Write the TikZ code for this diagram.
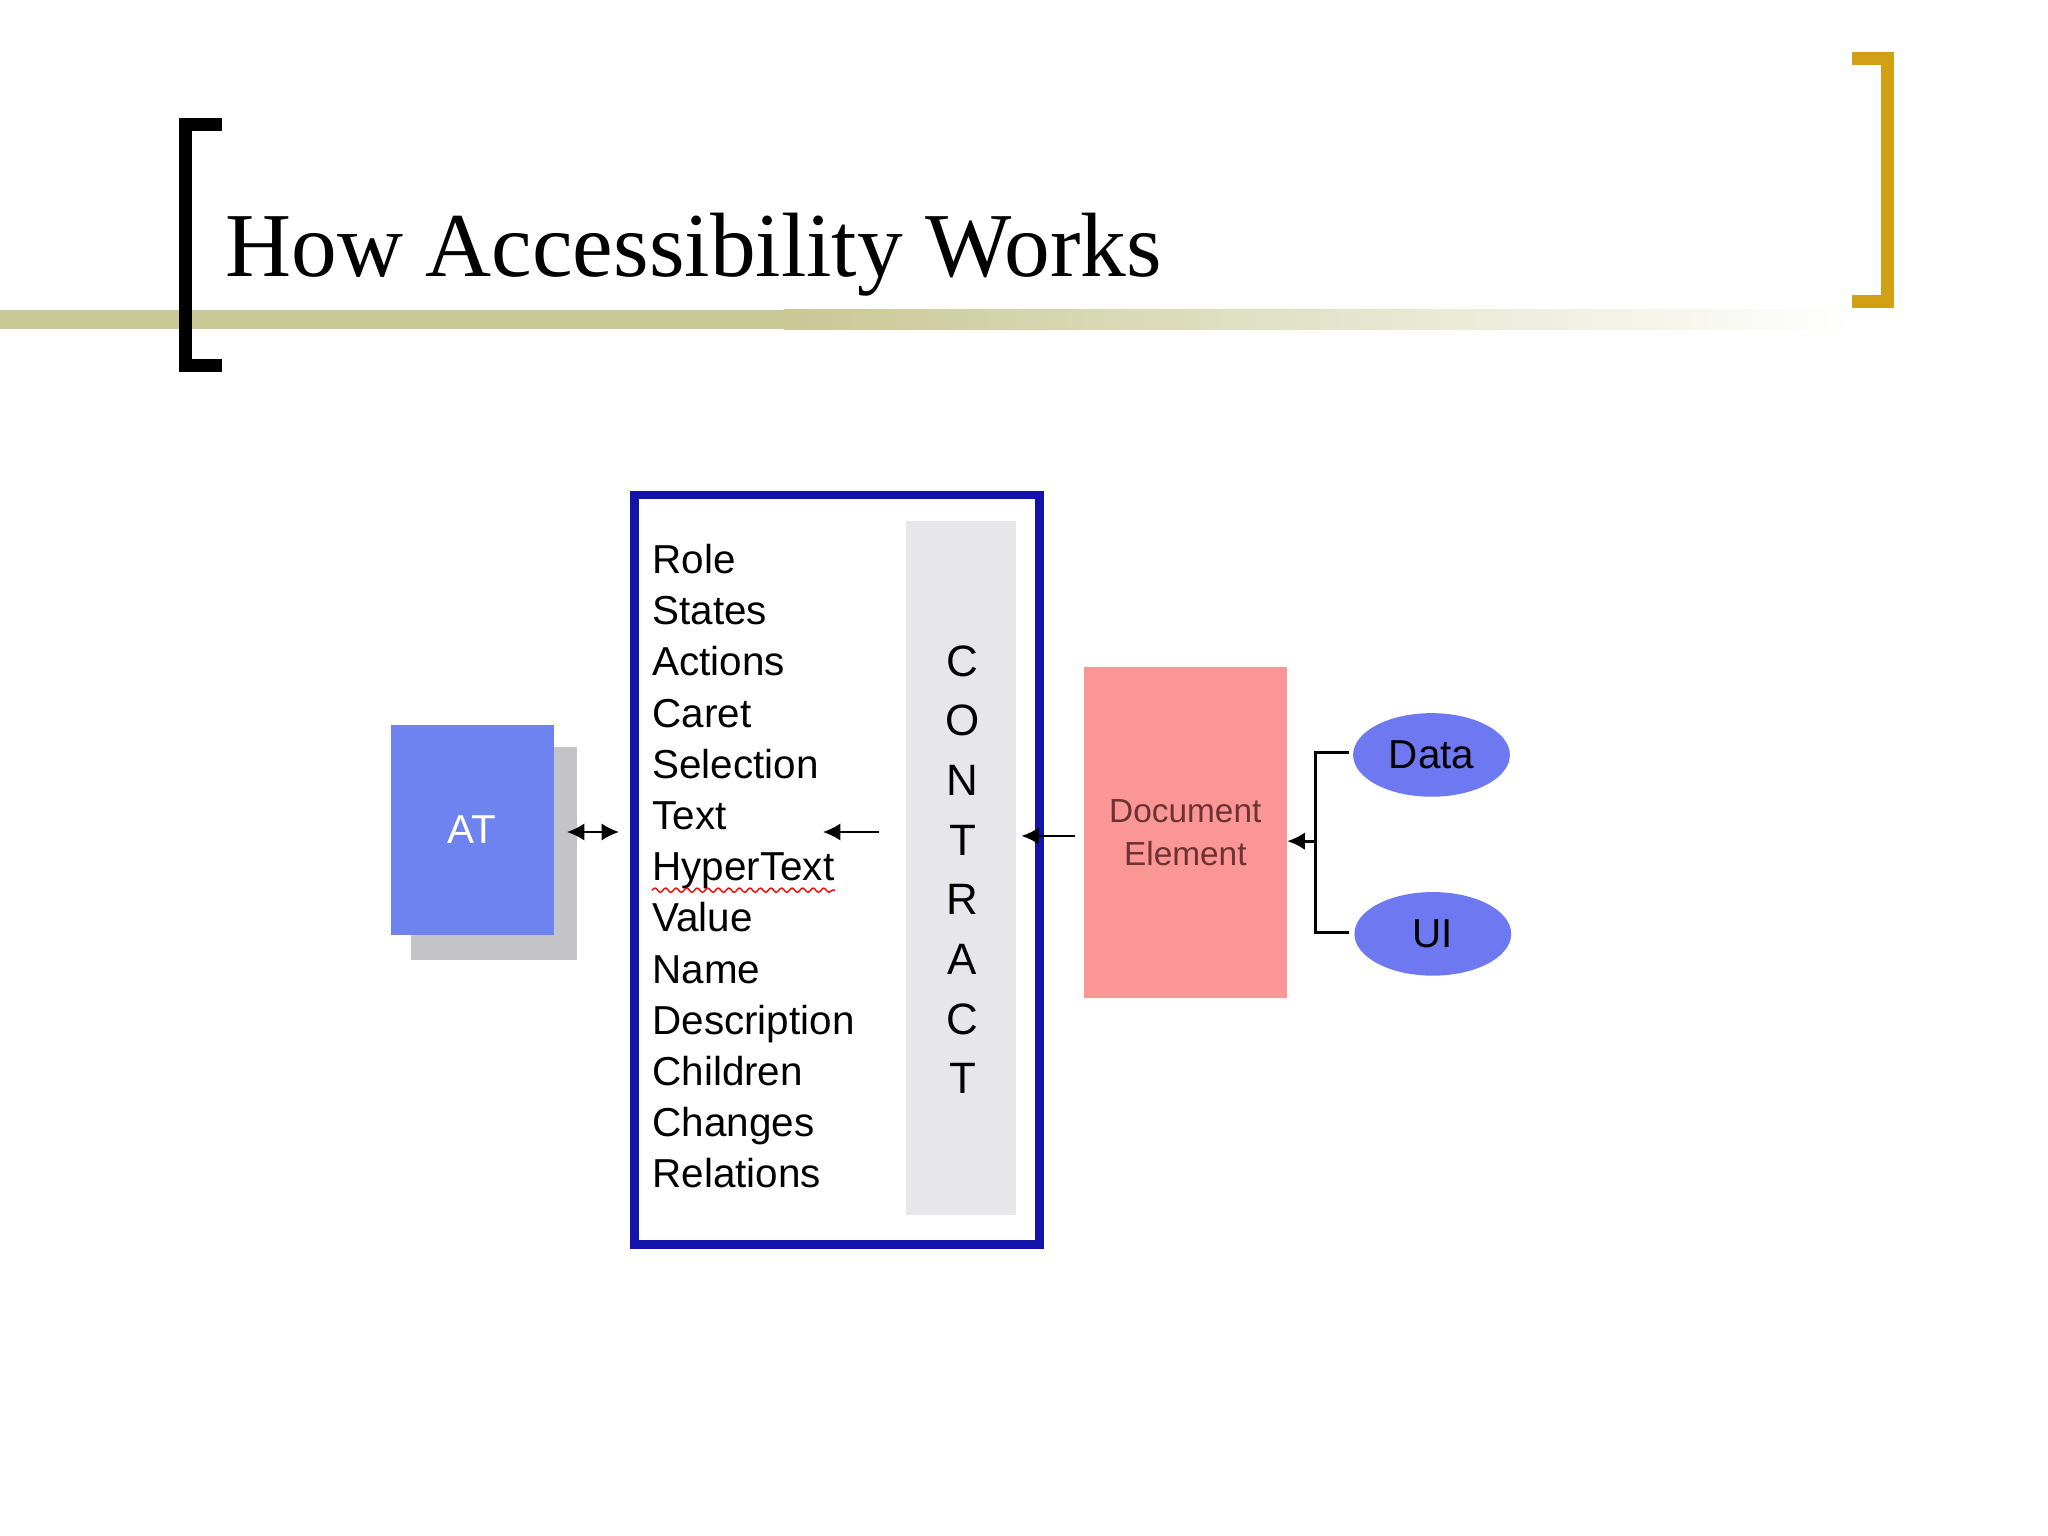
\documentclass[tikz,border=0pt]{standalone}
\usepackage{fontspec}
\setmainfont{Liberation Serif}
\newfontfamily\sansf{Liberation Sans}
\usetikzlibrary{arrows.meta,decorations.pathmorphing,shapes.geometric}
\newcommand\uu{0.013061cm}
\definecolor{olive}{RGB}{200,200,150}
\definecolor{gold}{RGB}{210,160,20}
\definecolor{atblue}{RGB}{110,130,240}
\definecolor{ellblue}{RGB}{110,120,240}
\definecolor{navy}{RGB}{20,20,170}
\definecolor{strip}{RGB}{230,230,235}
\definecolor{pink}{RGB}{250,150,150}
\definecolor{shadowgray}{RGB}{195,195,200}
\tikzset{
 item/.style={anchor=west,inner sep=0pt,font=\sansf\fontsize{11.5pt}{13pt}\selectfont},
 letter/.style={inner sep=0pt,font=\sansf\fontsize{12.5pt}{14pt}\selectfont},
 arr/.style={-{Latex[length=5pt,width=5pt]},line width=0.8pt},
 ell/.style={ellipse,fill=ellblue,minimum width=120*\uu,minimum height=64*\uu,inner sep=0pt,font=\sansf\fontsize{11.5pt}{13pt}\selectfont}
}
\begin{document}
\begin{tikzpicture}[x=\uu,y=-\uu]
\useasboundingbox (0,0) rectangle (1568,1176);
\fill[white] (0,0) rectangle (1568,1176);
% title band
\fill[olive] (0,237) rectangle (600,252);
\shade[left color=olive,right color=white] (600,237) rectangle (1420,252);
% brackets
\fill[black] (137,90) rectangle (147,285);
\fill[black] (137,90) rectangle (170,100);
\fill[black] (137,275) rectangle (170,285);
\fill[gold] (1440,40) rectangle (1450,236);
\fill[gold] (1418,40) rectangle (1450,50);
\fill[gold] (1418,226) rectangle (1450,236);
\node[anchor=base west,inner sep=0pt,font=\fontsize{26pt}{30pt}\selectfont] (title) at (172,212) {How Accessibility Works};
% AT
\fill[shadowgray] (315,572) rectangle (442,735);
\node[fill=atblue,minimum width=125*\uu,minimum height=161*\uu,inner sep=0pt,text=white,font=\sansf\fontsize{11.5pt}{13pt}\selectfont] (at) at (361.5,635.5) {AT};
% contract box
\node[draw=navy,line width=2.5pt,minimum width=310*\uu,minimum height=574*\uu,inner sep=0pt] (contract) at (641,666) {};
\node[fill=strip,minimum width=84*\uu,minimum height=531*\uu,inner sep=0pt] (stripn) at (736,664.5) {};
\foreach \t [count=\i from 0] in {Role,States,Actions,Caret,Selection,Text,HyperText,Value,Name,Description,Children,Changes,Relations}
  \node[item,text height=8.5pt,text depth=2.5pt] (it\i) at (499,{431+39.2*\i}) {\t};
\draw[red,decorate,decoration={snake,amplitude=0.6pt,segment length=3pt},line width=0.4pt] (it6.south west) -- (it6.south east);
\foreach \t [count=\i from 0] in {C,O,N,T,R,A,C,T}
  \node[letter] (c\i) at (737,{506+45.7*\i}) {\t};
% arrows
\coordinate (da) at (434,637);
\coordinate (db) at (474,637);
\draw[{Latex[length=5pt,width=5pt]}-{Latex[length=5pt,width=5pt]},line width=0.8pt] (da) -- (db);
\coordinate (ta) at (673,637);
\coordinate (tb) at (630,637);
\draw[arr] (ta) -- (tb);
% document element
\node[fill=pink,minimum width=155*\uu,minimum height=253*\uu,inner sep=0pt,align=center,text={rgb,255:red,110;green,50;blue,50},font=\sansf\fontsize{9.5pt}{12.5pt}\selectfont] (doc) at (907.5,637.5) {Document\\Element};
\coordinate (ca) at (823,640);
\coordinate (cb) at (782,640);
\draw[arr] (ca) -- (cb);
% ellipses
\node[ell] (data) at (1096,578) {Data};
\node[ell] (ui) at (1097,715) {UI};
\coordinate (j) at (1007,644);
\coordinate (ja) at (1033,576);
\coordinate (jb) at (1033,714);
\draw[line width=0.8pt] (ja) -- (1007,576) -- (1007,714) -- (jb);
\draw[arr] (j) -- (doc.east |- j);
\end{tikzpicture}
\end{document}
